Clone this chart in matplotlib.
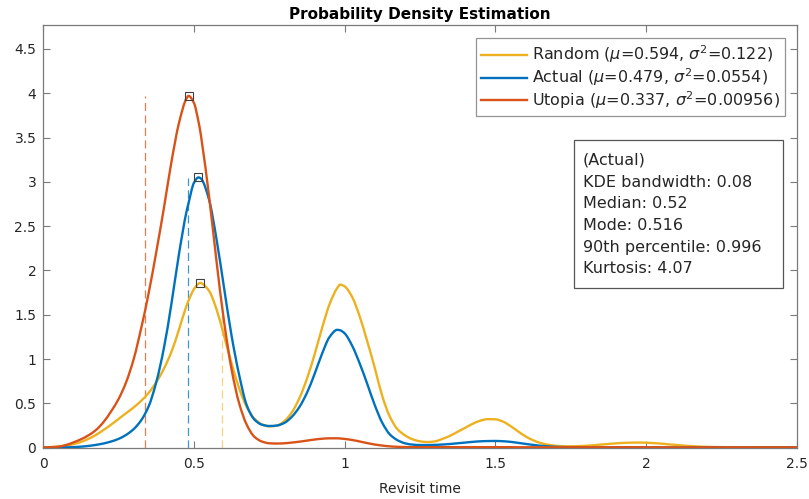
import numpy as np
import matplotlib
matplotlib.use("Agg")
import matplotlib.pyplot as plt
from matplotlib.patches import Rectangle, PathPatch
from matplotlib.path import Path
from matplotlib.lines import Line2D

plt.rcParams['font.family'] = ['DejaVu Sans']
plt.rcParams['mathtext.fontset'] = 'dejavusans'

# Evaluation points of the density estimates (revisit time)
revisit_time = [
    0.000, 0.025, 0.050, 0.075, 0.100, 0.125, 0.150, 0.175, 0.200, 0.225,
    0.250, 0.275, 0.300, 0.325, 0.350, 0.375, 0.400, 0.425, 0.450, 0.475,
    0.482, 0.500, 0.515, 0.520, 0.525, 0.550, 0.575, 0.600, 0.625, 0.650, 0.675, 0.700, 0.725,
    0.750, 0.775, 0.800, 0.825, 0.850, 0.875, 0.900, 0.925, 0.950, 0.975, 0.985,
    1.000, 1.025, 1.050, 1.075, 1.100, 1.125, 1.150, 1.175, 1.200, 1.225,
    1.250, 1.275, 1.300, 1.325, 1.350, 1.375, 1.400, 1.425, 1.450, 1.475,
    1.500, 1.525, 1.550, 1.575, 1.600, 1.625, 1.650, 1.675, 1.700, 1.725,
    1.750, 1.775, 1.800, 1.825, 1.850, 1.875, 1.900, 1.925, 1.950, 1.975,
    2.000, 2.025, 2.050, 2.075, 2.100, 2.125, 2.150, 2.175, 2.200, 2.225,
    2.250, 2.275, 2.300, 2.325, 2.350, 2.375, 2.400, 2.425, 2.450, 2.475, 2.500,
]

density_random = [
    0.004, 0.007, 0.013, 0.024, 0.040, 0.065, 0.100, 0.145, 0.200, 0.260,
    0.325, 0.390, 0.455, 0.530, 0.620, 0.740, 0.890, 1.080, 1.330, 1.600,
    1.660, 1.790, 1.850, 1.860, 1.855, 1.770, 1.560, 1.260, 0.950, 0.670, 0.460, 0.330, 0.265,
    0.240, 0.250, 0.300, 0.400, 0.560, 0.780, 1.050, 1.350, 1.620, 1.800, 1.840,
    1.820, 1.700, 1.480, 1.200, 0.900, 0.580, 0.350, 0.210, 0.140, 0.095,
    0.072, 0.064, 0.072, 0.100, 0.135, 0.180, 0.225, 0.270, 0.305, 0.322,
    0.320, 0.295, 0.245, 0.185, 0.128, 0.085, 0.053, 0.034, 0.022, 0.017,
    0.016, 0.018, 0.022, 0.028, 0.035, 0.042, 0.049, 0.054, 0.057, 0.058,
    0.056, 0.052, 0.046, 0.038, 0.031, 0.024, 0.018, 0.013, 0.010, 0.008,
    0.007, 0.006, 0.006, 0.005, 0.005, 0.005, 0.005, 0.005, 0.005, 0.005, 0.005,
]

density_actual = [
    0.001, 0.001, 0.002, 0.004, 0.007, 0.012, 0.020, 0.032, 0.048, 0.070,
    0.100, 0.145, 0.210, 0.310, 0.470, 0.740, 1.120, 1.620, 2.180, 2.660,
    2.760, 2.990, 3.050, 3.045, 3.030, 2.800, 2.350, 1.800, 1.260, 0.820, 0.480, 0.320, 0.260,
    0.245, 0.250, 0.280, 0.350, 0.460, 0.620, 0.830, 1.060, 1.250, 1.330, 1.325,
    1.290, 1.150, 0.950, 0.720, 0.480, 0.280, 0.150, 0.085, 0.050, 0.035,
    0.030, 0.030, 0.032, 0.036, 0.042, 0.050, 0.058, 0.066, 0.072, 0.075,
    0.076, 0.073, 0.066, 0.055, 0.043, 0.032, 0.022, 0.015, 0.010, 0.007,
    0.005, 0.005, 0.004, 0.004, 0.004, 0.004, 0.004, 0.004, 0.004, 0.004,
    0.004, 0.004, 0.003, 0.003, 0.003, 0.003, 0.003, 0.003, 0.003, 0.003,
    0.003, 0.003, 0.003, 0.003, 0.003, 0.003, 0.003, 0.003, 0.003, 0.003, 0.003,
]

density_utopia = [
    0.003, 0.006, 0.012, 0.030, 0.060, 0.095, 0.140, 0.200, 0.290, 0.410,
    0.550, 0.740, 1.000, 1.350, 1.750, 2.210, 2.700, 3.220, 3.660, 3.940,
    3.970, 3.890, 3.680, 3.590, 3.480, 2.840, 2.100, 1.420, 0.880, 0.500, 0.260, 0.125, 0.070,
    0.050, 0.047, 0.050, 0.058, 0.068, 0.080, 0.092, 0.101, 0.106, 0.106, 0.104,
    0.099, 0.087, 0.070, 0.052, 0.036, 0.024, 0.015, 0.010, 0.007, 0.006,
    0.006, 0.006, 0.006, 0.006, 0.006, 0.006, 0.006, 0.006, 0.006, 0.006,
    0.006, 0.006, 0.006, 0.005, 0.005, 0.005, 0.005, 0.005, 0.005, 0.005,
    0.005, 0.005, 0.005, 0.005, 0.005, 0.005, 0.005, 0.005, 0.005, 0.005,
    0.005, 0.005, 0.004, 0.004, 0.004, 0.004, 0.004, 0.004, 0.004, 0.004,
    0.004, 0.004, 0.004, 0.004, 0.004, 0.004, 0.004, 0.004, 0.004, 0.004, 0.004,
]

series_names = ['Random', 'Actual', 'Utopia']
series_means = ['0.594', '0.479', '0.337']
series_variances = ['0.122', '0.0554', '0.00956']
mean_line_tops = [1.60, 3.04, 3.97]
series_colors = ['#EDB120', '#0072BD', '#D95319']
mean_line_alpha = [0.55, 0.75, 0.75]

stats_lines = [
    '(Actual)',
    'KDE bandwidth: 0.08',
    'Median: 0.52',
    'Mode: 0.516',
    '90th percentile: 0.996',
    'Kurtosis: 4.07',
]

x_ticks = [0, 0.5, 1, 1.5, 2, 2.5]
x_tick_labels = ['0', '0.5', '1', '1.5', '2', '2.5']
y_ticks = [0, 0.5, 1, 1.5, 2, 2.5, 3, 3.5, 4, 4.5]
y_tick_labels = ['0', '0.5', '1', '1.5', '2', '2.5', '3', '3.5', '4', '4.5']

densities = [density_random, density_actual, density_utopia]
x = np.asarray(revisit_time, dtype=float)
for d in densities:
    assert len(d) == len(x)


def smooth_path(xs, ys):
    """Cubic Bezier path through the points, with shape-preserving
    (monotone Hermite) tangents."""
    xs = np.asarray(xs, float)
    ys = np.asarray(ys, float)
    h = np.diff(xs)
    delta = np.diff(ys) / h
    m = np.zeros_like(ys)
    m[0], m[-1] = delta[0], delta[-1]
    for k in range(1, len(xs) - 1):
        if delta[k - 1] * delta[k] <= 0:
            m[k] = 0.0
        else:
            w1 = 2 * h[k] + h[k - 1]
            w2 = h[k] + 2 * h[k - 1]
            m[k] = (w1 + w2) / (w1 / delta[k - 1] + w2 / delta[k])
    verts = [(xs[0], ys[0])]
    codes = [Path.MOVETO]
    for k in range(len(xs) - 1):
        verts += [(xs[k] + h[k] / 3, ys[k] + m[k] * h[k] / 3),
                  (xs[k + 1] - h[k] / 3, ys[k + 1] - m[k + 1] * h[k] / 3),
                  (xs[k + 1], ys[k + 1])]
        codes += [Path.CURVE4] * 3
    return Path(verts, codes)


fig = plt.figure(figsize=(8.09, 4.99), dpi=100)
ax = fig.add_axes([0.0535, 0.1028, 0.9313, 0.8471])

axis_gray = '#7a7a7a'
text_dark = '#262626'
curve_lw = 1.7

handles = []
for name, mu, var, d, c in zip(series_names, series_means, series_variances,
                               densities, series_colors):
    label = name + r' ($\mu$=' + mu + r', $\sigma^2$=' + var + ')'
    ax.add_patch(PathPatch(smooth_path(x, d), fill=False, edgecolor=c,
                           lw=curve_lw, zorder=3, capstyle='round',
                           joinstyle='round'))
    handles.append(Line2D([], [], color=c, lw=curve_lw, label=label))

# dashed lines at the means and square markers at the modes
for mu, top, c, a in zip(series_means, mean_line_tops, series_colors, mean_line_alpha):
    ax.plot([float(mu), float(mu)], [0, top], color=c, lw=0.9, alpha=a,
            dashes=(6.5, 3.5), zorder=2)
for d in densities:
    i = int(np.argmax(d))
    ax.plot(x[i], d[i], marker='s', ms=5.5, mfc='none', mec='#404040',
            mew=0.8, zorder=5)

ax.set_xlim(0, 2.5)
ax.set_ylim(0, 4.77)
ax.set_xticks(x_ticks)
ax.set_xticklabels(x_tick_labels)
ax.set_yticks(y_ticks)
ax.set_yticklabels(y_tick_labels)
ax.tick_params(direction='in', length=5, width=0.8, color=axis_gray,
               labelcolor=text_dark, labelsize=10, top=True, right=True)
ax.tick_params(axis='x', pad=7)
ax.tick_params(axis='y', pad=5)
for s in ax.spines.values():
    s.set_color(axis_gray)
    s.set_linewidth(0.9)

ax.set_xlabel('Revisit time', fontsize=10, color=text_dark, labelpad=7.5)
ax.set_title('Probability Density Estimation', fontsize=11, fontweight='bold',
             color='black', pad=4)

leg = ax.legend(handles=handles, loc='upper right', bbox_to_anchor=(0.9845, 0.9685),
                borderaxespad=0, fontsize=11.5, frameon=True, fancybox=False,
                handlelength=2.9, handletextpad=0.3, labelspacing=0.08,
                borderpad=0.32)
leg.get_frame().set_edgecolor(axis_gray)
leg.get_frame().set_linewidth(0.9)
for t in leg.get_texts():
    t.set_color(text_dark)

# statistics box
ax.add_patch(Rectangle((0.7044, 0.3778), 0.9818 - 0.7044, 0.7279 - 0.3778,
                       transform=ax.transAxes, fill=True, fc='white',
                       ec='#555555', lw=0.9, zorder=6))
ax.text(0.7164, 0.6975, '\n'.join(stats_lines), transform=ax.transAxes,
        ha='left', va='top', fontsize=11.5, color=text_dark, linespacing=1.56,
        zorder=7)

fig.savefig('out.png', dpi=100)
